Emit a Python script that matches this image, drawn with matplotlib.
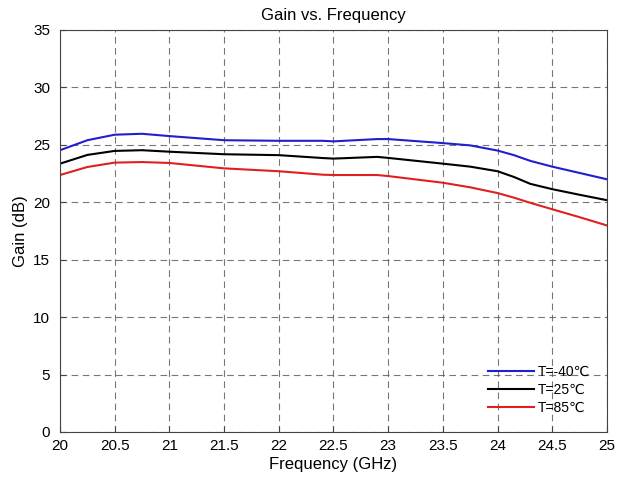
import matplotlib
matplotlib.use("Agg")
import matplotlib.pyplot as plt

plt.rcParams["font.family"] = ["Liberation Sans", "DejaVu Sans"]

freq = [20.0, 20.25, 20.5, 20.75, 21.0, 21.5, 22.0, 22.4, 22.5, 22.9, 23.0,
        23.5, 23.75, 24.0, 24.15, 24.3, 24.5, 24.75, 25.0]
gain_m40 = [24.53, 25.4, 25.88, 25.96, 25.76, 25.4, 25.35, 25.35, 25.3, 25.5,
            25.5, 25.15, 24.95, 24.5, 24.1, 23.6, 23.1, 22.55, 22.0]
gain_25 = [23.36, 24.12, 24.47, 24.53, 24.4, 24.18, 24.1, 23.85, 23.8, 23.95,
           23.86, 23.36, 23.1, 22.7, 22.2, 21.6, 21.14, 20.65, 20.18]
gain_85 = [22.37, 23.07, 23.45, 23.5, 23.42, 22.95, 22.7, 22.4, 22.37, 22.37,
           22.28, 21.7, 21.3, 20.8, 20.4, 19.95, 19.39, 18.7, 17.98]

series = [
    (gain_m40, "#1f1fd0", "T=-40℃"),
    (gain_25, "black", "T=25℃"),
    (gain_85, "#e02020", "T=85℃"),
]

fig = plt.figure(figsize=(6.27, 4.83), dpi=100)
ax = fig.add_axes([0.0957, 0.1056, 0.8723, 0.8324])

for values, color, label in series:
    ax.plot(freq, values, color=color, linewidth=1.5, label=label)

ax.set_xlim(20, 25)
ax.set_ylim(0, 35)
ax.set_xticks([20 + 0.5 * i for i in range(11)])
ax.set_xticklabels(["20", "20.5", "21", "21.5", "22", "22.5", "23", "23.5",
                    "24", "24.5", "25"])
ax.set_yticks(range(0, 36, 5))
ax.tick_params(direction="in", labelsize=11, length=4, color="#444444")
ax.tick_params(axis="y", pad=7)
ax.tick_params(axis="x", pad=5)
ax.grid(True, linestyle=(0, (6, 4)), color="#555555", linewidth=0.8, alpha=0.8)
for spine in ax.spines.values():
    spine.set_color("#444444")
    spine.set_linewidth(0.8)

ax.set_title("Gain vs. Frequency", fontsize=12, pad=7)
ax.set_xlabel("Frequency (GHz)", fontsize=12, labelpad=3)
ax.set_ylabel("Gain (dB)", fontsize=12)

ax.legend(loc="lower right", bbox_to_anchor=(1.0, 0.0), frameon=False,
          fontsize=10, handlelength=3.3, handletextpad=0.3, labelspacing=0.3,
          borderaxespad=0.8)

fig.savefig("out.png", dpi=100)
